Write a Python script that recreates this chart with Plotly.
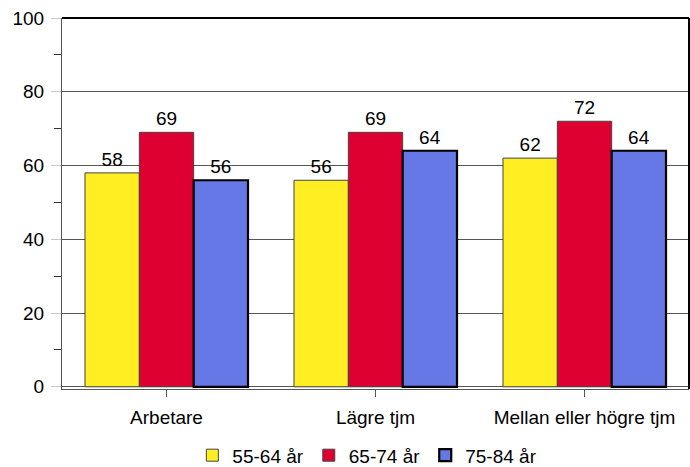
import plotly.graph_objects as go

categories = ["Arbetare", "Lägre tjm", "Mellan eller högre tjm"]
series_names = ["55-64 år", "65-74 år", "75-84 år"]
values_55_64 = [58, 56, 62]
values_65_74 = [69, 69, 72]
values_75_84 = [56, 64, 64]

series = [
    (series_names[0], values_55_64, "#FFEE22", "#444444", 1),
    (series_names[1], values_65_74, "#DD0030", "#444444", 1),
    (series_names[2], values_75_84, "#6677E6", "#000000", 2.2),
]

FONT = "Liberation Sans, Arial, sans-serif"
FS = 19

fig = go.Figure()
for name, vals, fill, edge, w in series:
    fig.add_trace(go.Bar(
        x=categories, y=vals, name=name,
        marker=dict(color=fill, line=dict(color=edge, width=w)),
        text=[str(v) for v in vals], textposition="outside",
        textfont=dict(size=FS, color="#000000", family=FONT),
        cliponaxis=False,
    ))

fig.update_layout(
    width=690, height=467,
    margin=dict(l=62, r=1, t=18, b=78, autoexpand=False),
    paper_bgcolor="white", plot_bgcolor="white",
    barmode="group", bargap=0.22, bargroupgap=0,
    font=dict(family=FONT, size=FS, color="#000000"),
    showlegend=True,
    legend=dict(orientation="h", x=0.487, xanchor="center", xref="paper",
                y=0.025, yanchor="middle", yref="container",
                font=dict(size=FS, family=FONT), itemwidth=30, traceorder="normal",
                tracegroupgap=0),
    uniformtext=dict(minsize=FS, mode="show"),
)
fig.update_xaxes(
    showgrid=False, showline=True, linecolor="#555555", linewidth=1,
    ticks="outside", ticklen=7, tickcolor="#555555",
    tickfont=dict(size=FS, family=FONT), ticklabelstandoff=4,
)
fig.update_yaxes(
    range=[-0.6, 100], tickvals=[0, 20, 40, 60, 80, 100],
    showgrid=True, gridcolor="#555555", gridwidth=1, zeroline=False,
    showline=True, linecolor="#555555", linewidth=1,
    ticks="outside", ticklen=10, tickcolor="#c8c8c8",
    minor=dict(tickvals=[10, 30, 50, 70, 90], ticks="outside", ticklen=7, tickcolor="#333333", showgrid=False),
    tickfont=dict(size=FS, family=FONT), ticklabelstandoff=3,
)
# frame: top and right border lines
fig.add_shape(type="line", xref="paper", yref="paper", x0=0, x1=1, y0=1, y1=1,
              line=dict(color="#000000", width=2))
fig.add_shape(type="line", xref="paper", yref="paper", x0=1, x1=1, y0=0, y1=1,
              line=dict(color="#000000", width=2))

fig.write_html("out.html")
